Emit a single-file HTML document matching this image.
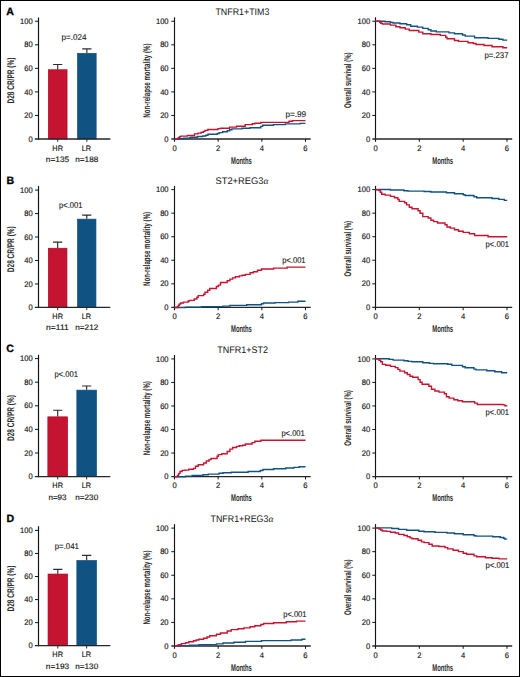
<!DOCTYPE html>
<html><head><meta charset="utf-8"><style>
html,body{margin:0;padding:0;background:#fff;}
svg{display:block;}
text{font-family:"Liberation Sans",sans-serif;fill:#141414;text-rendering:geometricPrecision;}
.tk{font-size:7.9px;stroke:#141414;stroke-width:0.14px;}
.nm{font-size:8.0px;stroke:#141414;stroke-width:0.16px;}
.pv{font-size:8.4px;stroke:#141414;stroke-width:0.12px;}
.ax{font-size:9.7px;stroke:#141414;stroke-width:0px;font-weight:bold;fill:#2a2a2a;}
.tt{font-size:9.6px;}
.al{font-size:9.5px;font-family:"Liberation Serif",serif;font-style:italic;}
.lt{font-size:10.6px;font-weight:bold;stroke:#000;stroke-width:0.3px;fill:#000;}
</style></head><body>
<svg width="520" height="677" viewBox="0 0 520 677">
<rect x="0" y="0" width="520" height="677" fill="#fff"/>
<rect x="48.35" y="69.75" width="18.7" height="69.25" fill="#c51431" stroke="#bb0022" stroke-width="0.7"/>
<path d="M57.7 69.4V64.5M53.1 64.5H62.3" stroke="#2c2c2c" stroke-width="1.15" fill="none"/>
<path d="M57.7 139V141.8" stroke="#141414" stroke-width="0.9"/>
<rect x="77.55" y="53.35" width="18.6" height="85.65" fill="#105383" stroke="#0e4a82" stroke-width="0.7"/>
<path d="M86.85 53V48.9M82.25 48.9H91.45" stroke="#2c2c2c" stroke-width="1.15" fill="none"/>
<path d="M86.85 139V141.8" stroke="#141414" stroke-width="0.9"/>
<path d="M38.5 17.5V139.6" stroke="#141414" stroke-width="1.2"/>
<path d="M34.8 139H110.3" stroke="#262626" stroke-width="1.3"/>
<text x="28.47" y="141.6" class="nm" textLength="4.23" lengthAdjust="spacingAndGlyphs">0</text>
<path d="M35 115.45H38.5" stroke="#141414" stroke-width="1"/>
<text x="24.25" y="118.05" class="nm" textLength="8.45" lengthAdjust="spacingAndGlyphs">20</text>
<path d="M35 91.9H38.5" stroke="#141414" stroke-width="1"/>
<text x="24.25" y="94.5" class="nm" textLength="8.45" lengthAdjust="spacingAndGlyphs">40</text>
<path d="M35 68.35H38.5" stroke="#141414" stroke-width="1"/>
<text x="24.25" y="70.95" class="nm" textLength="8.45" lengthAdjust="spacingAndGlyphs">60</text>
<path d="M35 44.8H38.5" stroke="#141414" stroke-width="1"/>
<text x="24.25" y="47.4" class="nm" textLength="8.45" lengthAdjust="spacingAndGlyphs">80</text>
<path d="M35 21.25H38.5" stroke="#141414" stroke-width="1"/>
<text x="20.01" y="23.85" class="nm" textLength="12.68" lengthAdjust="spacingAndGlyphs">100</text>
<text x="52.36" y="150.75" class="tk" textLength="10.61" lengthAdjust="spacingAndGlyphs">HR</text>
<text x="81.78" y="150.75" class="tk" textLength="9.39" lengthAdjust="spacingAndGlyphs">LR</text>
<text x="45.89" y="161.9" class="tk" textLength="23.25" lengthAdjust="spacingAndGlyphs">n=135</text>
<text x="75.25" y="161.9" class="tk" textLength="23.01" lengthAdjust="spacingAndGlyphs">n=188</text>
<text x="61.47" y="39.8" class="pv" textLength="24.96" lengthAdjust="spacingAndGlyphs">p=.024</text>
<text transform="translate(14 103.56) rotate(-90)" class="ax" textLength="45.96" lengthAdjust="spacingAndGlyphs">D28 CR/PR (%)</text>
<text x="6.24" y="14.75" class="lt">A</text>
<path d="M174.5 17.3V141.8" stroke="#141414" stroke-width="1.15"/>
<path d="M171.3 139H310.7" stroke="#262626" stroke-width="1.3"/>
<text x="164.37" y="141.6" class="nm" textLength="4.23" lengthAdjust="spacingAndGlyphs">0</text>
<path d="M171.3 115.45H174.5" stroke="#141414" stroke-width="1"/>
<text x="160.15" y="118.05" class="nm" textLength="8.45" lengthAdjust="spacingAndGlyphs">20</text>
<path d="M171.3 91.9H174.5" stroke="#141414" stroke-width="1"/>
<text x="160.15" y="94.5" class="nm" textLength="8.45" lengthAdjust="spacingAndGlyphs">40</text>
<path d="M171.3 68.35H174.5" stroke="#141414" stroke-width="1"/>
<text x="160.15" y="70.95" class="nm" textLength="8.45" lengthAdjust="spacingAndGlyphs">60</text>
<path d="M171.3 44.8H174.5" stroke="#141414" stroke-width="1"/>
<text x="160.15" y="47.4" class="nm" textLength="8.45" lengthAdjust="spacingAndGlyphs">80</text>
<path d="M171.3 21.25H174.5" stroke="#141414" stroke-width="1"/>
<text x="155.91" y="23.85" class="nm" textLength="12.68" lengthAdjust="spacingAndGlyphs">100</text>
<text x="172.38" y="150.8" class="nm" textLength="4.23" lengthAdjust="spacingAndGlyphs">0</text>
<path d="M218.17 139V141.8" stroke="#141414" stroke-width="1"/>
<text x="216.06" y="150.8" class="nm" textLength="4.23" lengthAdjust="spacingAndGlyphs">2</text>
<path d="M261.83 139V141.8" stroke="#141414" stroke-width="1"/>
<text x="259.74" y="150.8" class="nm" textLength="4.23" lengthAdjust="spacingAndGlyphs">4</text>
<path d="M305.5 139V141.8" stroke="#141414" stroke-width="1"/>
<text x="303.36" y="150.8" class="nm" textLength="4.23" lengthAdjust="spacingAndGlyphs">6</text>
<text x="231" y="163.5" class="ax" textLength="20.84" lengthAdjust="spacingAndGlyphs">Months</text>
<text transform="translate(149.6 117.64) rotate(-90)" class="ax" textLength="74.13" lengthAdjust="spacingAndGlyphs">Non-relapse mortality (%)</text>
<path d="M375.5 17.3V141.8" stroke="#141414" stroke-width="1.15"/>
<path d="M372.3 139H512.2" stroke="#262626" stroke-width="1.3"/>
<text x="366.07" y="141.6" class="nm" textLength="4.23" lengthAdjust="spacingAndGlyphs">0</text>
<path d="M372.3 115.45H375.5" stroke="#141414" stroke-width="1"/>
<text x="361.85" y="118.05" class="nm" textLength="8.45" lengthAdjust="spacingAndGlyphs">20</text>
<path d="M372.3 91.9H375.5" stroke="#141414" stroke-width="1"/>
<text x="361.85" y="94.5" class="nm" textLength="8.45" lengthAdjust="spacingAndGlyphs">40</text>
<path d="M372.3 68.35H375.5" stroke="#141414" stroke-width="1"/>
<text x="361.85" y="70.95" class="nm" textLength="8.45" lengthAdjust="spacingAndGlyphs">60</text>
<path d="M372.3 44.8H375.5" stroke="#141414" stroke-width="1"/>
<text x="361.85" y="47.4" class="nm" textLength="8.45" lengthAdjust="spacingAndGlyphs">80</text>
<path d="M372.3 21.25H375.5" stroke="#141414" stroke-width="1"/>
<text x="357.61" y="23.85" class="nm" textLength="12.68" lengthAdjust="spacingAndGlyphs">100</text>
<text x="373.38" y="150.8" class="nm" textLength="4.23" lengthAdjust="spacingAndGlyphs">0</text>
<path d="M419.33 139V141.8" stroke="#141414" stroke-width="1"/>
<text x="417.22" y="150.8" class="nm" textLength="4.23" lengthAdjust="spacingAndGlyphs">2</text>
<path d="M463.17 139V141.8" stroke="#141414" stroke-width="1"/>
<text x="461.08" y="150.8" class="nm" textLength="4.23" lengthAdjust="spacingAndGlyphs">4</text>
<path d="M507 139V141.8" stroke="#141414" stroke-width="1"/>
<text x="504.86" y="150.8" class="nm" textLength="4.23" lengthAdjust="spacingAndGlyphs">6</text>
<text x="432.25" y="163.5" class="ax" textLength="20.84" lengthAdjust="spacingAndGlyphs">Months</text>
<text transform="translate(350.9 108.06) rotate(-90)" class="ax" textLength="55.54" lengthAdjust="spacingAndGlyphs">Overall survival (%)</text>
<text x="215.4" y="15.1" class="tt" textLength="53.99" lengthAdjust="spacingAndGlyphs">TNFR1+TIM3</text>
<path d="M174.5 139.2H179V138.7H183.5V138.2H189.7V137.7H190.8V137.2H197.4V136.5H202.8V136H205.8V135.2H208V134.3H217.3V133.5H219.2V132.6H222.7V131.8H227.3V130.8H229.6V129.8H231.9V128.9H242V128.2H250V127.8H260.8V126.4H262.6V125.3H273.5V124.6H285.4V123.9H300V123.4H305.5" fill="none" stroke="#105383" stroke-width="1.4"/>
<path d="M174.5 139H177V138.6H178.3V137.6H179.5V136.7H180.8V136.1H187.4V135.5H194.5V133.9H198V133.1H201.2V132.2H203.5V131.4H205V130.4H207.8V129.5H218V128.6H220.5V128.2H229.6V127.1H236.5V126.3H245.2V124.6H252.3V123.8H255V123.2H260.8V122.4H289V121.3H292.5V120.6H305.5" fill="none" stroke="#c51431" stroke-width="1.4"/>
<path d="M375.5 21.2H385V21.7H390.5V22.4H393V23H400V23.7H406.6V24.8H410.7V26.2H417.4V27.1H422.8V28.4H428.2V29.8H430.9V31H436.3V31.9H449V32.9H454.5V33.8H462.5V35H465.2V36.1H474.6V37.8H488V38.4H498.9V39.3H502.9V40.1H507.2" fill="none" stroke="#105383" stroke-width="1.4"/>
<path d="M375.5 21.2H379.7V22.2H380.8V23.2H382.4V24H390.5V25.1H395.9V26.7H400V27.8H405.3V29.1H409.3V30.5H418.8V32.1H422.8V33.8H430.9V34.5H440.3V35.4H445.7V37.3H447V38.7H454.5V40.5H458.5V41.4H468V42.8H473.3V43.5H476V44.5H484V45.5H492.1V46.8H502.9V47.8H507.2" fill="none" stroke="#c51431" stroke-width="1.4"/>
<text x="285.47" y="117.3" class="pv" textLength="20.7" lengthAdjust="spacingAndGlyphs">p=.99</text>
<text x="484.39" y="57.5" class="pv" textLength="24.11" lengthAdjust="spacingAndGlyphs">p=.237</text>
<rect x="48.35" y="248.25" width="18.6" height="59.15" fill="#c51431" stroke="#bb0022" stroke-width="0.7"/>
<path d="M57.65 247.9V242.1M53.05 242.1H62.25" stroke="#2c2c2c" stroke-width="1.15" fill="none"/>
<path d="M57.65 307.4V310.2" stroke="#141414" stroke-width="0.9"/>
<rect x="77.55" y="219.15" width="18.4" height="88.25" fill="#105383" stroke="#0e4a82" stroke-width="0.7"/>
<path d="M86.75 218.8V215.1M82.15 215.1H91.35" stroke="#2c2c2c" stroke-width="1.15" fill="none"/>
<path d="M86.75 307.4V310.2" stroke="#141414" stroke-width="0.9"/>
<path d="M38.5 186.1V308" stroke="#141414" stroke-width="1.2"/>
<path d="M34.8 307.4H110.3" stroke="#262626" stroke-width="1.3"/>
<text x="28.47" y="310" class="nm" textLength="4.23" lengthAdjust="spacingAndGlyphs">0</text>
<path d="M35 283.94H38.5" stroke="#141414" stroke-width="1"/>
<text x="24.25" y="286.54" class="nm" textLength="8.45" lengthAdjust="spacingAndGlyphs">20</text>
<path d="M35 260.48H38.5" stroke="#141414" stroke-width="1"/>
<text x="24.25" y="263.08" class="nm" textLength="8.45" lengthAdjust="spacingAndGlyphs">40</text>
<path d="M35 237.02H38.5" stroke="#141414" stroke-width="1"/>
<text x="24.25" y="239.62" class="nm" textLength="8.45" lengthAdjust="spacingAndGlyphs">60</text>
<path d="M35 213.56H38.5" stroke="#141414" stroke-width="1"/>
<text x="24.25" y="216.16" class="nm" textLength="8.45" lengthAdjust="spacingAndGlyphs">80</text>
<path d="M35 190.1H38.5" stroke="#141414" stroke-width="1"/>
<text x="20.01" y="192.7" class="nm" textLength="12.68" lengthAdjust="spacingAndGlyphs">100</text>
<text x="52.36" y="319.15" class="tk" textLength="10.61" lengthAdjust="spacingAndGlyphs">HR</text>
<text x="81.78" y="319.15" class="tk" textLength="9.39" lengthAdjust="spacingAndGlyphs">LR</text>
<text x="46.13" y="330.3" class="tk" textLength="22.58" lengthAdjust="spacingAndGlyphs">n=111</text>
<text x="75.25" y="330.3" class="tk" textLength="23.07" lengthAdjust="spacingAndGlyphs">n=212</text>
<text x="59.11" y="208" class="pv" textLength="23.31" lengthAdjust="spacingAndGlyphs">p&lt;.001</text>
<text transform="translate(14 272.19) rotate(-90)" class="ax" textLength="45.96" lengthAdjust="spacingAndGlyphs">D28 CR/PR (%)</text>
<text x="6.48" y="183.55" class="lt">B</text>
<path d="M174.5 185.9V310.2" stroke="#141414" stroke-width="1.15"/>
<path d="M171.3 307.4H310.7" stroke="#262626" stroke-width="1.3"/>
<text x="164.37" y="310" class="nm" textLength="4.23" lengthAdjust="spacingAndGlyphs">0</text>
<path d="M171.3 283.84H174.5" stroke="#141414" stroke-width="1"/>
<text x="160.15" y="286.44" class="nm" textLength="8.45" lengthAdjust="spacingAndGlyphs">20</text>
<path d="M171.3 260.28H174.5" stroke="#141414" stroke-width="1"/>
<text x="160.15" y="262.88" class="nm" textLength="8.45" lengthAdjust="spacingAndGlyphs">40</text>
<path d="M171.3 236.72H174.5" stroke="#141414" stroke-width="1"/>
<text x="160.15" y="239.32" class="nm" textLength="8.45" lengthAdjust="spacingAndGlyphs">60</text>
<path d="M171.3 213.16H174.5" stroke="#141414" stroke-width="1"/>
<text x="160.15" y="215.76" class="nm" textLength="8.45" lengthAdjust="spacingAndGlyphs">80</text>
<path d="M171.3 189.6H174.5" stroke="#141414" stroke-width="1"/>
<text x="155.91" y="192.2" class="nm" textLength="12.68" lengthAdjust="spacingAndGlyphs">100</text>
<text x="172.38" y="319.2" class="nm" textLength="4.23" lengthAdjust="spacingAndGlyphs">0</text>
<path d="M218.17 307.4V310.2" stroke="#141414" stroke-width="1"/>
<text x="216.06" y="319.2" class="nm" textLength="4.23" lengthAdjust="spacingAndGlyphs">2</text>
<path d="M261.83 307.4V310.2" stroke="#141414" stroke-width="1"/>
<text x="259.74" y="319.2" class="nm" textLength="4.23" lengthAdjust="spacingAndGlyphs">4</text>
<path d="M305.5 307.4V310.2" stroke="#141414" stroke-width="1"/>
<text x="303.36" y="319.2" class="nm" textLength="4.23" lengthAdjust="spacingAndGlyphs">6</text>
<text x="231" y="331.9" class="ax" textLength="20.84" lengthAdjust="spacingAndGlyphs">Months</text>
<text transform="translate(149.6 286.01) rotate(-90)" class="ax" textLength="74.13" lengthAdjust="spacingAndGlyphs">Non-relapse mortality (%)</text>
<path d="M375.5 185.9V310.2" stroke="#141414" stroke-width="1.15"/>
<path d="M372.3 307.4H512.2" stroke="#262626" stroke-width="1.3"/>
<text x="366.07" y="310" class="nm" textLength="4.23" lengthAdjust="spacingAndGlyphs">0</text>
<path d="M372.3 283.84H375.5" stroke="#141414" stroke-width="1"/>
<text x="361.85" y="286.44" class="nm" textLength="8.45" lengthAdjust="spacingAndGlyphs">20</text>
<path d="M372.3 260.28H375.5" stroke="#141414" stroke-width="1"/>
<text x="361.85" y="262.88" class="nm" textLength="8.45" lengthAdjust="spacingAndGlyphs">40</text>
<path d="M372.3 236.72H375.5" stroke="#141414" stroke-width="1"/>
<text x="361.85" y="239.32" class="nm" textLength="8.45" lengthAdjust="spacingAndGlyphs">60</text>
<path d="M372.3 213.16H375.5" stroke="#141414" stroke-width="1"/>
<text x="361.85" y="215.76" class="nm" textLength="8.45" lengthAdjust="spacingAndGlyphs">80</text>
<path d="M372.3 189.6H375.5" stroke="#141414" stroke-width="1"/>
<text x="357.61" y="192.2" class="nm" textLength="12.68" lengthAdjust="spacingAndGlyphs">100</text>
<text x="373.38" y="319.2" class="nm" textLength="4.23" lengthAdjust="spacingAndGlyphs">0</text>
<path d="M419.33 307.4V310.2" stroke="#141414" stroke-width="1"/>
<text x="417.22" y="319.2" class="nm" textLength="4.23" lengthAdjust="spacingAndGlyphs">2</text>
<path d="M463.17 307.4V310.2" stroke="#141414" stroke-width="1"/>
<text x="461.08" y="319.2" class="nm" textLength="4.23" lengthAdjust="spacingAndGlyphs">4</text>
<path d="M507 307.4V310.2" stroke="#141414" stroke-width="1"/>
<text x="504.86" y="319.2" class="nm" textLength="4.23" lengthAdjust="spacingAndGlyphs">6</text>
<text x="432.25" y="331.9" class="ax" textLength="20.84" lengthAdjust="spacingAndGlyphs">Months</text>
<text transform="translate(350.9 276.44) rotate(-90)" class="ax" textLength="55.54" lengthAdjust="spacingAndGlyphs">Overall survival (%)</text>
<text x="215.48" y="183.8" class="tt" textLength="47.93" lengthAdjust="spacingAndGlyphs">ST2+REG3</text>
<text x="263.51" y="183.8" class="al">&#945;</text>
<path d="M174.5 307.6H185.5V307.1H201.6V306.6H223V306.1H229.9V305.4H246.7V304.8H261.5V303.8H263.6V303H275V302.6H288.5V302.1H297.9V301.3H305.5" fill="none" stroke="#105383" stroke-width="1.4"/>
<path d="M174.5 307.5H177.4V306.4H178.5V305.2H179.4V304H180.7V303H183.4V302.1H188.2V301H189.5V300.4H194.2V299H196.9V297.3H198.2V295.6H203.6V294.3H205V292.3H207.7V290.3H209.7V288.5H216.4V286.5H218.4V285.1H220.5V282.5H227.2V280.8H229.9V279.1H232.6V277.9H235.3V276.8H239.3V275.9H242V275.2H245.4V274.4H250.1V272.8H253.5V271.7H257.5V270.3H261.5V269H273.6V268.1H287.1V267.1H305.5" fill="none" stroke="#c51431" stroke-width="1.4"/>
<path d="M375.5 189.5H390.5V190H404V190.7H408V191.1H424.1V191.5H430.9V192H446.4V192.8H454.5V193.7H463.2V194.7H465.2V195.5H474V196.8H476.7V197.8H492.1V198.5H498.9V199.4H504.3V200.4H507.2" fill="none" stroke="#105383" stroke-width="1.4"/>
<path d="M375.5 189.7H379V190.6H380.3V192.2H381.7V194.2H385.1V195.1H390.5V196.4H394.5V197.8H397.9V199.5H399.2V201.4H404.6V202.8H406.6V204.9H409.3V207.2H412V208.8H418.1V210.8H420.1V213.3H422.8V216.6H428.2V218H430.9V220.3H433.6V221.6H437.6V223H445V224.7H447V227H450.4V228.1H454.5V229.7H458.5V231.2H463.2V232.4H469.3V233.7H474.6V235.5H488.1V236.8H507.2" fill="none" stroke="#c51431" stroke-width="1.4"/>
<text x="282.21" y="262.9" class="pv" textLength="23.36" lengthAdjust="spacingAndGlyphs">p&lt;.001</text>
<text x="485.61" y="247.3" class="pv" textLength="23.47" lengthAdjust="spacingAndGlyphs">p&lt;.001</text>
<rect x="47.85" y="416.85" width="19.7" height="59.75" fill="#c51431" stroke="#bb0022" stroke-width="0.7"/>
<path d="M57.7 416.5V410.2M53.1 410.2H62.3" stroke="#2c2c2c" stroke-width="1.15" fill="none"/>
<path d="M57.7 476.6V479.4" stroke="#141414" stroke-width="0.9"/>
<rect x="76.85" y="390.15" width="19.6" height="86.45" fill="#105383" stroke="#0e4a82" stroke-width="0.7"/>
<path d="M86.65 389.8V386M82.05 386H91.25" stroke="#2c2c2c" stroke-width="1.15" fill="none"/>
<path d="M86.65 476.6V479.4" stroke="#141414" stroke-width="0.9"/>
<path d="M38.5 354.75V477.2" stroke="#141414" stroke-width="1.2"/>
<path d="M34.8 476.6H110.3" stroke="#262626" stroke-width="1.3"/>
<text x="28.47" y="479.2" class="nm" textLength="4.23" lengthAdjust="spacingAndGlyphs">0</text>
<path d="M35 453H38.5" stroke="#141414" stroke-width="1"/>
<text x="24.25" y="455.6" class="nm" textLength="8.45" lengthAdjust="spacingAndGlyphs">20</text>
<path d="M35 429.4H38.5" stroke="#141414" stroke-width="1"/>
<text x="24.25" y="432" class="nm" textLength="8.45" lengthAdjust="spacingAndGlyphs">40</text>
<path d="M35 405.8H38.5" stroke="#141414" stroke-width="1"/>
<text x="24.25" y="408.4" class="nm" textLength="8.45" lengthAdjust="spacingAndGlyphs">60</text>
<path d="M35 382.2H38.5" stroke="#141414" stroke-width="1"/>
<text x="24.25" y="384.8" class="nm" textLength="8.45" lengthAdjust="spacingAndGlyphs">80</text>
<path d="M35 358.6H38.5" stroke="#141414" stroke-width="1"/>
<text x="20.01" y="361.2" class="nm" textLength="12.68" lengthAdjust="spacingAndGlyphs">100</text>
<text x="52.36" y="488.35" class="tk" textLength="10.61" lengthAdjust="spacingAndGlyphs">HR</text>
<text x="81.78" y="488.35" class="tk" textLength="9.39" lengthAdjust="spacingAndGlyphs">LR</text>
<text x="48.4" y="499.5" class="tk" textLength="18.24" lengthAdjust="spacingAndGlyphs">n=93</text>
<text x="75.25" y="499.5" class="tk" textLength="22.97" lengthAdjust="spacingAndGlyphs">n=230</text>
<text x="54.46" y="377.4" class="pv" textLength="23.47" lengthAdjust="spacingAndGlyphs">p&lt;.001</text>
<text transform="translate(14 441.04) rotate(-90)" class="ax" textLength="45.96" lengthAdjust="spacingAndGlyphs">D28 CR/PR (%)</text>
<text x="6.18" y="352.1" class="lt">C</text>
<path d="M174.5 355V479.4" stroke="#141414" stroke-width="1.15"/>
<path d="M171.3 476.6H310.7" stroke="#262626" stroke-width="1.3"/>
<text x="164.37" y="479.2" class="nm" textLength="4.23" lengthAdjust="spacingAndGlyphs">0</text>
<path d="M171.3 453.06H174.5" stroke="#141414" stroke-width="1"/>
<text x="160.15" y="455.66" class="nm" textLength="8.45" lengthAdjust="spacingAndGlyphs">20</text>
<path d="M171.3 429.52H174.5" stroke="#141414" stroke-width="1"/>
<text x="160.15" y="432.12" class="nm" textLength="8.45" lengthAdjust="spacingAndGlyphs">40</text>
<path d="M171.3 405.98H174.5" stroke="#141414" stroke-width="1"/>
<text x="160.15" y="408.58" class="nm" textLength="8.45" lengthAdjust="spacingAndGlyphs">60</text>
<path d="M171.3 382.44H174.5" stroke="#141414" stroke-width="1"/>
<text x="160.15" y="385.04" class="nm" textLength="8.45" lengthAdjust="spacingAndGlyphs">80</text>
<path d="M171.3 358.9H174.5" stroke="#141414" stroke-width="1"/>
<text x="155.91" y="361.5" class="nm" textLength="12.68" lengthAdjust="spacingAndGlyphs">100</text>
<text x="172.38" y="488.4" class="nm" textLength="4.23" lengthAdjust="spacingAndGlyphs">0</text>
<path d="M218.17 476.6V479.4" stroke="#141414" stroke-width="1"/>
<text x="216.06" y="488.4" class="nm" textLength="4.23" lengthAdjust="spacingAndGlyphs">2</text>
<path d="M261.83 476.6V479.4" stroke="#141414" stroke-width="1"/>
<text x="259.74" y="488.4" class="nm" textLength="4.23" lengthAdjust="spacingAndGlyphs">4</text>
<path d="M305.5 476.6V479.4" stroke="#141414" stroke-width="1"/>
<text x="303.36" y="488.4" class="nm" textLength="4.23" lengthAdjust="spacingAndGlyphs">6</text>
<text x="231" y="501.1" class="ax" textLength="20.84" lengthAdjust="spacingAndGlyphs">Months</text>
<text transform="translate(149.6 455.26) rotate(-90)" class="ax" textLength="74.13" lengthAdjust="spacingAndGlyphs">Non-relapse mortality (%)</text>
<path d="M375.5 355V479.4" stroke="#141414" stroke-width="1.15"/>
<path d="M372.3 476.6H512.2" stroke="#262626" stroke-width="1.3"/>
<text x="366.07" y="479.2" class="nm" textLength="4.23" lengthAdjust="spacingAndGlyphs">0</text>
<path d="M372.3 453.06H375.5" stroke="#141414" stroke-width="1"/>
<text x="361.85" y="455.66" class="nm" textLength="8.45" lengthAdjust="spacingAndGlyphs">20</text>
<path d="M372.3 429.52H375.5" stroke="#141414" stroke-width="1"/>
<text x="361.85" y="432.12" class="nm" textLength="8.45" lengthAdjust="spacingAndGlyphs">40</text>
<path d="M372.3 405.98H375.5" stroke="#141414" stroke-width="1"/>
<text x="361.85" y="408.58" class="nm" textLength="8.45" lengthAdjust="spacingAndGlyphs">60</text>
<path d="M372.3 382.44H375.5" stroke="#141414" stroke-width="1"/>
<text x="361.85" y="385.04" class="nm" textLength="8.45" lengthAdjust="spacingAndGlyphs">80</text>
<path d="M372.3 358.9H375.5" stroke="#141414" stroke-width="1"/>
<text x="357.61" y="361.5" class="nm" textLength="12.68" lengthAdjust="spacingAndGlyphs">100</text>
<text x="373.38" y="488.4" class="nm" textLength="4.23" lengthAdjust="spacingAndGlyphs">0</text>
<path d="M419.33 476.6V479.4" stroke="#141414" stroke-width="1"/>
<text x="417.22" y="488.4" class="nm" textLength="4.23" lengthAdjust="spacingAndGlyphs">2</text>
<path d="M463.17 476.6V479.4" stroke="#141414" stroke-width="1"/>
<text x="461.08" y="488.4" class="nm" textLength="4.23" lengthAdjust="spacingAndGlyphs">4</text>
<path d="M507 476.6V479.4" stroke="#141414" stroke-width="1"/>
<text x="504.86" y="488.4" class="nm" textLength="4.23" lengthAdjust="spacingAndGlyphs">6</text>
<text x="432.25" y="501.1" class="ax" textLength="20.84" lengthAdjust="spacingAndGlyphs">Months</text>
<text transform="translate(350.9 445.69) rotate(-90)" class="ax" textLength="55.54" lengthAdjust="spacingAndGlyphs">Overall survival (%)</text>
<text x="217.2" y="352.9" class="tt" textLength="50.75" lengthAdjust="spacingAndGlyphs">TNFR1+ST2</text>
<path d="M174.5 476.7H185.5V476.1H192.2V475.5H203V474.8H208.3V474.1H219.1V473.3H223.1V472.8H231.2V472.3H248.1V471.5H260.2V470.5H262.9V469.5H273.6V468.7H285.8V468H293.8V467.4H299.2V466.7H305.5" fill="none" stroke="#105383" stroke-width="1.4"/>
<path d="M174.5 476.6H177.4V475.4H178.6V474H179V473.4H180V471.5H182.1V470.4H184.8V470.1H188.8V469.3H193.5V468.4H195.5V466.3H198.2V464.7H203.6V463H206.3V461H209V459.6H211V458.5H217.1V456.2H218.4V454.6H221.8V453.8H227.2V451.5H229.9V449.1H232.6V447.5H236.6V446.4H239.3V445.7H242.7V445.2H245.4V444H252.1V442.6H254.8V441.3H260.9V440.2H305.5" fill="none" stroke="#c51431" stroke-width="1.4"/>
<path d="M375.5 358.8H389.2V359.4H393.2V360.1H404V360.7H408V361.4H412V361.8H422.8V362.7H429.5V363.4H433.6V363.8H447.7V364.2H451.8V365.4H462.5V366.8H465.2V367.7H474V369.1H476V369.9H486.8V370.8H494.8V371.8H501.6V372.8H507.2" fill="none" stroke="#105383" stroke-width="1.4"/>
<path d="M375.5 358.9H379V360.2H380.7V361.8H382.4V364.4H385.8V365.2H390.5V366.4H395.2V367.6H397.9V369.4H399.9V371.1H404.6V372.8H407.3V374.5H410V376.2H412.7V377.3H418.1V379.6H420.1V382.3H422.1V384.3H428.9V386.3H431.5V389.3H434.9V391H438.9V392.1H444.4V393.7H446.4V396.8H449.1V398.1H453.8V399.8H457.8V400.8H462.5V401.8H474.6V403.1H477.3V404.5H502.9V404.9H504.9V405.8H507.2" fill="none" stroke="#c51431" stroke-width="1.4"/>
<text x="281.41" y="435.8" class="pv" textLength="23.36" lengthAdjust="spacingAndGlyphs">p&lt;.001</text>
<text x="485.61" y="415.1" class="pv" textLength="23.47" lengthAdjust="spacingAndGlyphs">p&lt;.001</text>
<rect x="48.05" y="574.05" width="19.5" height="71.65" fill="#c51431" stroke="#bb0022" stroke-width="0.7"/>
<path d="M57.8 573.7V569.4M53.2 569.4H62.4" stroke="#2c2c2c" stroke-width="1.15" fill="none"/>
<path d="M57.8 645.7V648.5" stroke="#141414" stroke-width="0.9"/>
<rect x="76.85" y="560.55" width="19.6" height="85.15" fill="#105383" stroke="#0e4a82" stroke-width="0.7"/>
<path d="M86.65 560.2V555.3M82.05 555.3H91.25" stroke="#2c2c2c" stroke-width="1.15" fill="none"/>
<path d="M86.65 645.7V648.5" stroke="#141414" stroke-width="0.9"/>
<path d="M38.5 526.25V646.3" stroke="#141414" stroke-width="1.2"/>
<path d="M34.8 645.7H110.3" stroke="#262626" stroke-width="1.3"/>
<text x="28.47" y="648.3" class="nm" textLength="4.23" lengthAdjust="spacingAndGlyphs">0</text>
<path d="M35 622.64H38.5" stroke="#141414" stroke-width="1"/>
<text x="24.25" y="625.24" class="nm" textLength="8.45" lengthAdjust="spacingAndGlyphs">20</text>
<path d="M35 599.58H38.5" stroke="#141414" stroke-width="1"/>
<text x="24.25" y="602.18" class="nm" textLength="8.45" lengthAdjust="spacingAndGlyphs">40</text>
<path d="M35 576.52H38.5" stroke="#141414" stroke-width="1"/>
<text x="24.25" y="579.12" class="nm" textLength="8.45" lengthAdjust="spacingAndGlyphs">60</text>
<path d="M35 553.46H38.5" stroke="#141414" stroke-width="1"/>
<text x="24.25" y="556.06" class="nm" textLength="8.45" lengthAdjust="spacingAndGlyphs">80</text>
<path d="M35 530.4H38.5" stroke="#141414" stroke-width="1"/>
<text x="20.01" y="533" class="nm" textLength="12.68" lengthAdjust="spacingAndGlyphs">100</text>
<text x="52.36" y="657.45" class="tk" textLength="10.61" lengthAdjust="spacingAndGlyphs">HR</text>
<text x="81.78" y="657.45" class="tk" textLength="9.39" lengthAdjust="spacingAndGlyphs">LR</text>
<text x="45.89" y="668.6" class="tk" textLength="23.27" lengthAdjust="spacingAndGlyphs">n=193</text>
<text x="75.25" y="668.6" class="tk" textLength="22.97" lengthAdjust="spacingAndGlyphs">n=130</text>
<text x="54.69" y="548.9" class="pv" textLength="24.3" lengthAdjust="spacingAndGlyphs">p=.041</text>
<text transform="translate(14 611.49) rotate(-90)" class="ax" textLength="45.96" lengthAdjust="spacingAndGlyphs">D28 CR/PR (%)</text>
<text x="6.48" y="521.8" class="lt">D</text>
<path d="M174.5 524.1V648.8" stroke="#141414" stroke-width="1.15"/>
<path d="M171.3 646H310.7" stroke="#262626" stroke-width="1.3"/>
<text x="164.37" y="648.6" class="nm" textLength="4.23" lengthAdjust="spacingAndGlyphs">0</text>
<path d="M171.3 622.42H174.5" stroke="#141414" stroke-width="1"/>
<text x="160.15" y="625.02" class="nm" textLength="8.45" lengthAdjust="spacingAndGlyphs">20</text>
<path d="M171.3 598.84H174.5" stroke="#141414" stroke-width="1"/>
<text x="160.15" y="601.44" class="nm" textLength="8.45" lengthAdjust="spacingAndGlyphs">40</text>
<path d="M171.3 575.26H174.5" stroke="#141414" stroke-width="1"/>
<text x="160.15" y="577.86" class="nm" textLength="8.45" lengthAdjust="spacingAndGlyphs">60</text>
<path d="M171.3 551.68H174.5" stroke="#141414" stroke-width="1"/>
<text x="160.15" y="554.28" class="nm" textLength="8.45" lengthAdjust="spacingAndGlyphs">80</text>
<path d="M171.3 528.1H174.5" stroke="#141414" stroke-width="1"/>
<text x="155.91" y="530.7" class="nm" textLength="12.68" lengthAdjust="spacingAndGlyphs">100</text>
<text x="172.38" y="657.8" class="nm" textLength="4.23" lengthAdjust="spacingAndGlyphs">0</text>
<path d="M218.17 646V648.8" stroke="#141414" stroke-width="1"/>
<text x="216.06" y="657.8" class="nm" textLength="4.23" lengthAdjust="spacingAndGlyphs">2</text>
<path d="M261.83 646V648.8" stroke="#141414" stroke-width="1"/>
<text x="259.74" y="657.8" class="nm" textLength="4.23" lengthAdjust="spacingAndGlyphs">4</text>
<path d="M305.5 646V648.8" stroke="#141414" stroke-width="1"/>
<text x="303.36" y="657.8" class="nm" textLength="4.23" lengthAdjust="spacingAndGlyphs">6</text>
<text x="231" y="670.5" class="ax" textLength="20.84" lengthAdjust="spacingAndGlyphs">Months</text>
<text transform="translate(149.6 624.56) rotate(-90)" class="ax" textLength="74.13" lengthAdjust="spacingAndGlyphs">Non-relapse mortality (%)</text>
<path d="M375.5 524.1V648.8" stroke="#141414" stroke-width="1.15"/>
<path d="M372.3 646H512.2" stroke="#262626" stroke-width="1.3"/>
<text x="366.07" y="648.6" class="nm" textLength="4.23" lengthAdjust="spacingAndGlyphs">0</text>
<path d="M372.3 622.42H375.5" stroke="#141414" stroke-width="1"/>
<text x="361.85" y="625.02" class="nm" textLength="8.45" lengthAdjust="spacingAndGlyphs">20</text>
<path d="M372.3 598.84H375.5" stroke="#141414" stroke-width="1"/>
<text x="361.85" y="601.44" class="nm" textLength="8.45" lengthAdjust="spacingAndGlyphs">40</text>
<path d="M372.3 575.26H375.5" stroke="#141414" stroke-width="1"/>
<text x="361.85" y="577.86" class="nm" textLength="8.45" lengthAdjust="spacingAndGlyphs">60</text>
<path d="M372.3 551.68H375.5" stroke="#141414" stroke-width="1"/>
<text x="361.85" y="554.28" class="nm" textLength="8.45" lengthAdjust="spacingAndGlyphs">80</text>
<path d="M372.3 528.1H375.5" stroke="#141414" stroke-width="1"/>
<text x="357.61" y="530.7" class="nm" textLength="12.68" lengthAdjust="spacingAndGlyphs">100</text>
<text x="373.38" y="657.8" class="nm" textLength="4.23" lengthAdjust="spacingAndGlyphs">0</text>
<path d="M419.33 646V648.8" stroke="#141414" stroke-width="1"/>
<text x="417.22" y="657.8" class="nm" textLength="4.23" lengthAdjust="spacingAndGlyphs">2</text>
<path d="M463.17 646V648.8" stroke="#141414" stroke-width="1"/>
<text x="461.08" y="657.8" class="nm" textLength="4.23" lengthAdjust="spacingAndGlyphs">4</text>
<path d="M507 646V648.8" stroke="#141414" stroke-width="1"/>
<text x="504.86" y="657.8" class="nm" textLength="4.23" lengthAdjust="spacingAndGlyphs">6</text>
<text x="432.25" y="670.5" class="ax" textLength="20.84" lengthAdjust="spacingAndGlyphs">Months</text>
<text transform="translate(350.9 614.99) rotate(-90)" class="ax" textLength="55.54" lengthAdjust="spacingAndGlyphs">Overall survival (%)</text>
<text x="210.5" y="522.4" class="tt" textLength="57.89" lengthAdjust="spacingAndGlyphs">TNFR1+REG3</text>
<text x="268.41" y="522.4" class="al">&#945;</text>
<path d="M174.5 646.1H180V645.6H189.5V645.1H198.9V644.6H216.4V643.9H223.1V643H233.9V642.3H245.4V641.4H261.5V640.6H291.1V640H301.9V639.3H305.5" fill="none" stroke="#105383" stroke-width="1.4"/>
<path d="M174.5 646H177.4V645.3H179V644.6H181.4V643.6H185.5V642.8H188.8V641.8H193.5V640.8H196.2V640H198.9V639.3H203.6V638.3H207V637H209.7V635.7H216.4V634.3H220.5V633H227.2V631H231.2V629.6H238V628.7H244V627.9H250.1V626.8H254.8V625.7H260.9V624.5H263.6V623.5H273.6V622.8H286.4V621.8H296.5V621.1H305.5" fill="none" stroke="#c51431" stroke-width="1.4"/>
<path d="M375.5 527.9H391.8V528.5H398.6V529.4H406.6V530.3H418.8V531.2H424.1V531.8H434.9V532.4H447.1V533H454.5V533.8H463.2V534.8H474V535.7H476V536.1H492.8V536.8H500.2V537.5H503.6V538.2H504.9V539.1H507.2" fill="none" stroke="#105383" stroke-width="1.4"/>
<path d="M375.5 528.1H379V529H380.7V530H382.4V531H386.5V531.4H390.5V532.2H395.2V533H398.6V534.4H404V535.5H407.3V536.8H410V537.9H412V538.8H418.1V540.2H421.5V541.9H424.1V542.6H428.9V544.2H432.2V546H438.9V546.5H445V547.6H447.7V548.9H453.1V550.3H458.5V551.6H463.2V553.2H466.6V554.3H474V555.9H476.7V556.7H485.4V557.7H492.1V558.3H498.9V558.9H507.2" fill="none" stroke="#c51431" stroke-width="1.4"/>
<text x="283.21" y="616.9" class="pv" textLength="23.26" lengthAdjust="spacingAndGlyphs">p&lt;.001</text>
<text x="485.6" y="568.2" class="pv" textLength="23.78" lengthAdjust="spacingAndGlyphs">p&lt;.001</text>
<rect x="0.5" y="0.5" width="519" height="676" fill="none" stroke="#000" stroke-width="1"/>
</svg>
</body></html>
